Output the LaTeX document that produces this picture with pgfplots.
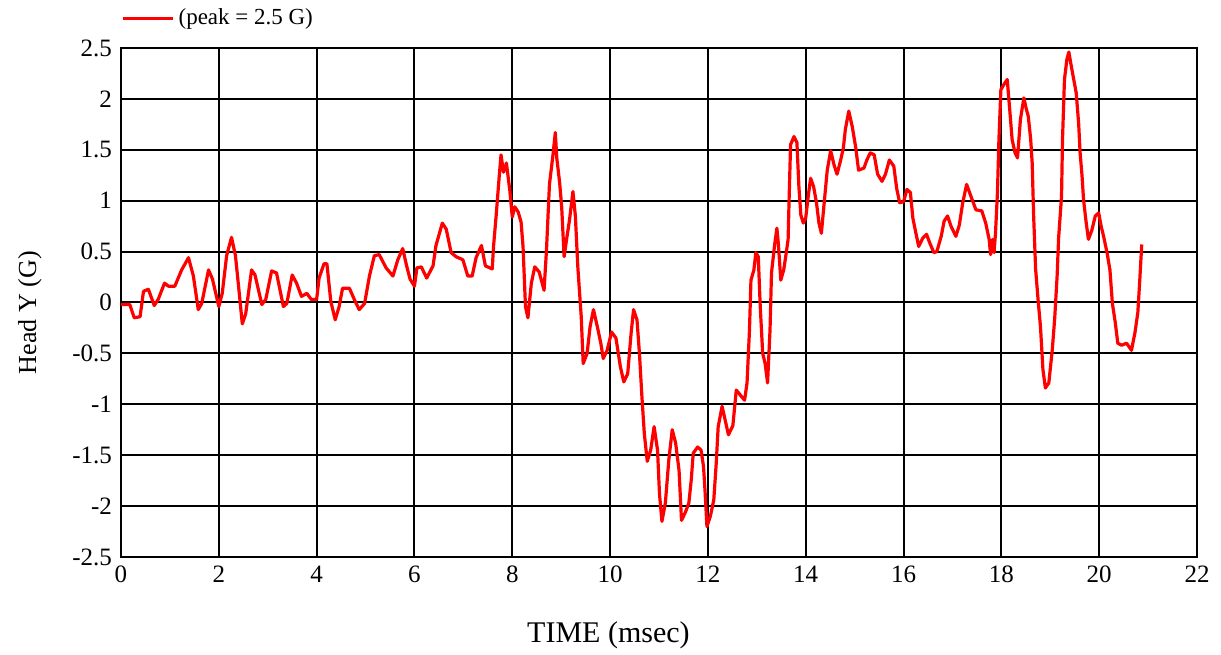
\documentclass[border=0pt]{standalone}
\usepackage{fontspec}
\setmainfont{Liberation Serif}
\usepackage{pgfplots}
\pgfplotsset{compat=1.18}
\begin{document}
\begin{tikzpicture}
\begin{axis}[
  scale only axis,
  width=538pt, height=254.5pt,
  xmin=0, xmax=22, ymin=-2.5, ymax=2.5,
  xtick={0,2,...,22},
  ytick={-2.5,-2,-1.5,-1,-0.5,0,0.5,1,1.5,2,2.5},
  yticklabels={-2.5,-2,-1.5,-1,-0.5,0,0.5,1,1.5,2,2.5},
  xticklabels={0,2,4,6,8,10,12,14,16,18,20,22},
  /pgf/number format/assume math mode=true,
  grid=major,
  major grid style={black, line width=1pt},
  axis line style={black, line width=1pt},
  major tick length=0pt,
  ticklabel style={font=\fontsize{12.5}{14}\selectfont},
  yticklabel style={xshift=-1pt},
  xticklabel style={yshift=-1pt},
  xlabel={TIME (msec)},
  ylabel={Head Y (G)},
  xlabel style={font=\fontsize{15}{17}\selectfont,
    at={(axis description cs:0.453,-0.153)}, anchor=center},
  ylabel style={font=\fontsize{13}{15}\selectfont,
    at={(axis description cs:-0.0846,0.48)}, anchor=center, rotate=0},
  legend style={at={(axis description cs:0,1)}, anchor=south west,
    yshift=8pt, draw=none, fill=none, inner sep=0pt,
    font=\fontsize{11.5}{13}\selectfont,
    nodes={inner sep=2pt}},
  legend image code/.code={\draw[#1] (0pt,0pt) -- (25pt,0pt);},
]
\addplot[red, line width=1.6pt, line join=round] coordinates {
(0,-0.02) (0.18,-0.02) (0.27,-0.15) (0.39,-0.14) (0.46,0.11) (0.56,0.13)
(0.68,-0.03) (0.76,0.03) (0.89,0.19) (0.97,0.16) (1.10,0.16) (1.24,0.32)
(1.38,0.44) (1.48,0.26) (1.58,-0.07) (1.65,-0.01) (1.79,0.32) (1.87,0.23)
(2.00,-0.04) (2.07,0.09) (2.16,0.46) (2.26,0.64) (2.34,0.46) (2.41,0.13)
(2.48,-0.21) (2.55,-0.11) (2.67,0.32) (2.74,0.27) (2.88,-0.02) (2.96,0.03)
(3.08,0.31) (3.18,0.29) (3.32,-0.04) (3.39,-0.01) (3.50,0.27) (3.59,0.19)
(3.69,0.06) (3.80,0.09) (3.89,0.03) (4.00,0.03) (4.05,0.24) (4.15,0.38)
(4.21,0.38) (4.29,0.01) (4.38,-0.17) (4.46,-0.04) (4.53,0.14) (4.67,0.14)
(4.77,0.03) (4.87,-0.07) (4.98,-0.01) (5.08,0.26) (5.18,0.46) (5.28,0.47)
(5.42,0.34) (5.56,0.26) (5.66,0.42) (5.76,0.53) (5.84,0.36) (5.91,0.23)
(6.00,0.16) (6.05,0.34) (6.14,0.35) (6.25,0.24) (6.38,0.36) (6.44,0.56)
(6.57,0.78) (6.65,0.72) (6.75,0.49) (6.85,0.45) (6.99,0.42) (7.09,0.26)
(7.18,0.26) (7.26,0.44) (7.37,0.56) (7.45,0.36) (7.59,0.33) (7.62,0.57)
(7.67,0.85) (7.73,1.22) (7.77,1.45) (7.82,1.28) (7.88,1.37) (7.95,1.10)
(8.00,0.84) (8.05,0.94) (8.12,0.89) (8.18,0.79) (8.22,0.55) (8.27,-0.04)
(8.32,-0.15) (8.39,0.19) (8.46,0.35) (8.55,0.30) (8.65,0.12) (8.70,0.52)
(8.76,1.16) (8.83,1.44) (8.88,1.67) (8.91,1.42) (8.97,1.17) (9.01,0.94)
(9.06,0.45) (9.12,0.65) (9.17,0.81) (9.24,1.09) (9.29,0.85) (9.34,0.35)
(9.41,-0.14) (9.45,-0.60) (9.53,-0.50) (9.59,-0.24) (9.66,-0.07) (9.74,-0.24)
(9.81,-0.40) (9.86,-0.55) (9.94,-0.47) (10.03,-0.29) (10.12,-0.35) (10.21,-0.63)
(10.28,-0.78) (10.36,-0.70) (10.43,-0.30) (10.48,-0.07) (10.55,-0.17) (10.60,-0.50)
(10.65,-0.92) (10.70,-1.29) (10.76,-1.56) (10.83,-1.45) (10.90,-1.22) (10.97,-1.45)
(11.01,-1.88) (11.06,-2.15) (11.13,-1.97) (11.20,-1.55) (11.27,-1.25) (11.34,-1.38)
(11.41,-1.65) (11.46,-2.14) (11.54,-2.06) (11.61,-1.97) (11.66,-1.74) (11.70,-1.48)
(11.79,-1.42) (11.86,-1.45) (11.91,-1.61) (11.94,-1.84) (11.98,-2.20) (12.05,-2.10)
(12.12,-1.94) (12.17,-1.58) (12.21,-1.22) (12.29,-1.02) (12.42,-1.30) (12.51,-1.21)
(12.58,-0.86) (12.68,-0.92) (12.75,-0.96) (12.80,-0.79) (12.85,-0.27) (12.88,0.22)
(12.94,0.32) (12.98,0.49) (13.03,0.45) (13.07,-0.04) (13.12,-0.50) (13.17,-0.60)
(13.22,-0.79) (13.27,-0.27) (13.30,0.29) (13.36,0.55) (13.41,0.73) (13.44,0.58)
(13.49,0.22) (13.55,0.32) (13.59,0.45) (13.64,0.62) (13.66,1.01) (13.69,1.55)
(13.76,1.63) (13.82,1.57) (13.86,1.14) (13.90,0.86) (13.95,0.78) (14.00,0.83)
(14.05,1.04) (14.10,1.22) (14.16,1.14) (14.22,0.98) (14.27,0.78) (14.32,0.68)
(14.37,0.94) (14.44,1.30) (14.51,1.49) (14.58,1.35) (14.64,1.26) (14.71,1.39)
(14.77,1.52) (14.81,1.70) (14.88,1.88) (14.95,1.73) (15.02,1.53) (15.08,1.30)
(15.19,1.32) (15.25,1.40) (15.32,1.47) (15.40,1.45) (15.47,1.26) (15.56,1.19)
(15.63,1.26) (15.71,1.40) (15.80,1.34) (15.86,1.12) (15.92,0.98) (16.00,0.99)
(16.07,1.11) (16.14,1.08) (16.19,0.83) (16.24,0.71) (16.31,0.55) (16.39,0.63)
(16.47,0.67) (16.54,0.58) (16.62,0.49) (16.68,0.50) (16.77,0.65) (16.83,0.80)
(16.90,0.85) (16.97,0.75) (17.07,0.65) (17.14,0.76) (17.21,0.98) (17.29,1.16)
(17.38,1.04) (17.48,0.91) (17.60,0.90) (17.68,0.78) (17.75,0.62) (17.78,0.47)
(17.82,0.62) (17.85,0.49) (17.88,0.68) (17.92,1.08) (17.95,1.60) (17.99,2.09)
(18.05,2.14) (18.12,2.19) (18.17,1.90) (18.22,1.60) (18.28,1.47) (18.33,1.42)
(18.39,1.80) (18.46,2.01) (18.51,1.90) (18.55,1.83) (18.60,1.60) (18.63,1.37)
(18.66,0.85) (18.70,0.33) (18.75,0.03) (18.80,-0.24) (18.85,-0.66) (18.90,-0.84)
(18.97,-0.79) (19.04,-0.47) (19.09,-0.16) (19.14,0.26) (19.17,0.63) (19.23,1.04)
(19.25,1.60) (19.29,2.19) (19.34,2.39) (19.38,2.46) (19.43,2.32) (19.48,2.19)
(19.53,2.06) (19.58,1.76) (19.61,1.47) (19.65,1.24) (19.68,1.01) (19.73,0.80)
(19.78,0.62) (19.85,0.71) (19.92,0.85) (19.99,0.88) (20.04,0.75) (20.09,0.65)
(20.16,0.49) (20.22,0.32) (20.27,-0.01) (20.33,-0.20) (20.38,-0.40) (20.46,-0.42)
(20.56,-0.40) (20.66,-0.47) (20.73,-0.30) (20.79,-0.10) (20.83,0.22) (20.87,0.57)
};
\addlegendentry{(peak = 2.5 G)}
\coordinate (sw) at (rel axis cs:0,0);
\coordinate (ne) at (rel axis cs:1,1);
\end{axis}
\pgfresetboundingbox
\path[use as bounding box] ([shift={(-60.5pt,-49pt)}]sw) rectangle ([shift={(12pt,24pt)}]ne);
\end{tikzpicture}
\end{document}
